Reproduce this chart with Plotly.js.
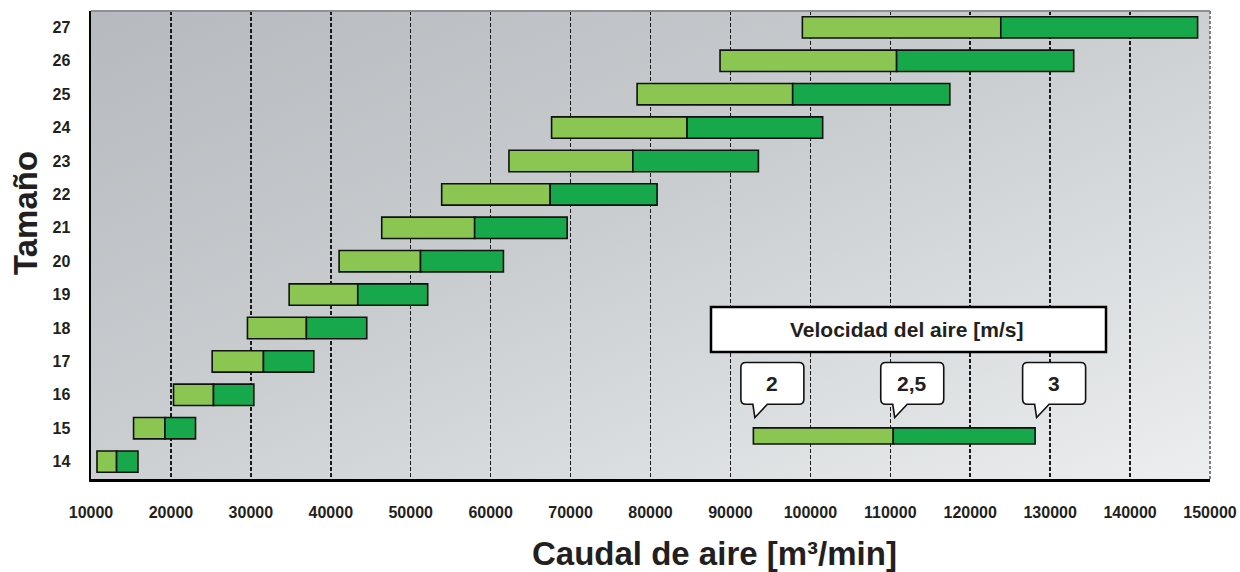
<!DOCTYPE html>
<html><head><meta charset="utf-8">
<script src="https://cdn.plot.ly/plotly-3.0.1.min.js"></script>
<style>html,body{margin:0;padding:0;background:#fff}#chart{width:1240px;height:572px}</style>
</head><body><div id="chart"></div>
<script>
// ---- data ----
const sizes     = [14, 15, 16, 17, 18, 19, 20, 21, 22, 23, 24, 25, 26, 27];
const flowAt2   = [10750, 15325, 20325, 25160, 29575, 34790, 41040, 46375, 53875, 62290, 67625, 78325, 88700, 99000];
const flowAt25  = [13200, 19250, 25325, 31575, 36950, 43375, 51225, 58000, 67450, 77790, 84575, 97790, 110790, 123825];
const flowAt3   = [15875, 23075, 30375, 37875, 44500, 52125, 61600, 69575, 80825, 93500, 101540, 117450, 132950, 148450];
const legendSpeeds = ['2', '2,5', '3'];
const legendFlows  = [92870, 110370, 128120];
const legendRow    = 14.77;
const xTickVals   = [10000, 20000, 30000, 40000, 50000, 60000, 70000, 80000, 90000, 100000, 110000, 120000, 130000, 140000, 150000];
const xTickLabels = ['10000','20000','30000','40000','50000','60000','70000','80000','90000','100000','110000','120000','130000','140000','150000'];
const xTitle = 'Caudal de aire [m³/min]';
const yTitle = 'Tamaño';
const legendTitle = 'Velocidad del aire [m/s]';

// ---- geometry ----
const W = 1240, H = 572;
const PL = 91, PR = 1210, PT = 11, PB = 479;
const XMIN = 10000, XMAX = 150000;
const fx = px => (px - PL) / (PR - PL);
const fy = py => (PB - py) / (PB - PT);
const vx = v => PL + (v - XMIN) / (XMAX - XMIN) * (PR - PL);

const LIGHT = '#8bc653', DARK = '#17a84b';
const FONT = 'Liberation Sans, Arial, sans-serif';
const TXT = '#231f20';

const diff = (a, b) => a.map((v, i) => v - b[i]);
const barLine = {color: '#111', width: 1.6};

const traces = [
  {type: 'bar', orientation: 'h', y: sizes, base: flowAt2, x: diff(flowAt25, flowAt2),
   width: 0.64, marker: {color: LIGHT, line: barLine}, hoverinfo: 'skip'},
  {type: 'bar', orientation: 'h', y: sizes, base: flowAt25, x: diff(flowAt3, flowAt25),
   width: 0.64, marker: {color: DARK, line: barLine}, hoverinfo: 'skip'},
  {type: 'bar', orientation: 'h', y: [legendRow], base: [legendFlows[0]], x: [legendFlows[1] - legendFlows[0]],
   width: 0.48, marker: {color: LIGHT, line: barLine}, hoverinfo: 'skip'},
  {type: 'bar', orientation: 'h', y: [legendRow], base: [legendFlows[1]], x: [legendFlows[2] - legendFlows[1]],
   width: 0.48, marker: {color: DARK, line: barLine}, hoverinfo: 'skip'}
];

// gradient background
const grad = '<svg xmlns="http://www.w3.org/2000/svg" width="200" height="100" viewBox="0 0 200 100" preserveAspectRatio="none">' +
  '<defs><linearGradient id="g" x1="0" y1="0" x2="1" y2="1">' +
  '<stop offset="0" stop-color="#b6babe"/><stop offset="0.45" stop-color="#c9cdd0"/><stop offset="1" stop-color="#eceeef"/></linearGradient></defs>' +
  '<rect width="200" height="100" fill="url(#g)"/></svg>';

const shapes = [];
const annotations = [];

// legend title box
shapes.push({type: 'rect', xref: 'paper', yref: 'paper', x0: fx(711), x1: fx(1106), y0: fy(352), y1: fy(307),
  line: {color: '#000', width: 2.5}, fillcolor: '#fff'});
annotations.push({xref: 'paper', yref: 'paper', x: fx(906), y: fy(329.5), text: legendTitle, showarrow: false,
  font: {family: FONT, size: 21, color: TXT, weight: 'bold'}, xanchor: 'center', yanchor: 'middle'});

// speech bubbles
function bubblePath(tip) {
  const l = tip - 14, r = tip + 49, t = 362.5, b = 404.3, rad = 5;
  const tl = tip - 2, tr = tip + 12.5, ty = 417.5;
  const P = (x, y) => fx(x).toFixed(5) + ',' + fy(y).toFixed(5);
  return 'M' + P(l + rad, t) + ' L' + P(r - rad, t) + ' Q' + P(r, t) + ' ' + P(r, t + rad) +
    ' L' + P(r, b - rad) + ' Q' + P(r, b) + ' ' + P(r - rad, b) +
    ' L' + P(tr, b) + ' L' + P(tip, ty) + ' L' + P(tl, b) +
    ' L' + P(l + rad, b) + ' Q' + P(l, b) + ' ' + P(l, b - rad) +
    ' L' + P(l, t + rad) + ' Q' + P(l, t) + ' ' + P(l + rad, t) + ' Z';
}
legendFlows.forEach((v, i) => {
  const tip = vx(v) + 1.5;
  shapes.push({type: 'path', xref: 'paper', yref: 'paper', path: bubblePath(tip),
    line: {color: '#111', width: 1.6}, fillcolor: '#fff'});
  annotations.push({xref: 'paper', yref: 'paper', x: fx(tip + 17.5), y: fy(383.5), text: legendSpeeds[i],
    showarrow: false, font: {family: FONT, size: 21, color: TXT, weight: 'bold'},
    xanchor: 'center', yanchor: 'middle'});
});

// frame lines
shapes.push({type: 'line', xref: 'paper', yref: 'paper', x0: 0, x1: 1, y0: 1, y1: 1, line: {color: '#8e9193', width: 2}});
shapes.push({type: 'line', xref: 'paper', yref: 'paper', x0: 1, x1: 1, y0: 0, y1: 1, line: {color: '#7d8083', width: 2, dash: '3px,2px'}});

// axis titles
annotations.push({xref: 'paper', yref: 'paper', x: fx(714), y: fy(553), text: xTitle, showarrow: false,
  font: {family: FONT, size: 33, color: TXT, weight: 'bold'}, xanchor: 'center', yanchor: 'middle'});
annotations.push({xref: 'paper', yref: 'paper', x: fx(25), y: fy(213), text: yTitle, showarrow: false, textangle: -90,
  font: {family: FONT, size: 33, color: TXT, weight: 'bold'}, xanchor: 'center', yanchor: 'middle'});

const layout = {
  width: W, height: H,
  margin: {l: PL, r: W - PR, t: PT, b: H - PB, pad: 0},
  paper_bgcolor: '#ffffff', plot_bgcolor: 'rgba(0,0,0,0)',
  barmode: 'overlay', showlegend: false,
  images: [{source: 'data:image/svg+xml;charset=utf-8,' + encodeURIComponent(grad), xref: 'paper', yref: 'paper',
    x: 0, y: 1, sizex: 1, sizey: 1, sizing: 'stretch', xanchor: 'left', yanchor: 'top', layer: 'below'}],
  xaxis: {range: [XMIN, XMAX], tickvals: xTickVals, ticktext: xTickLabels,
    showgrid: true, gridcolor: '#1a1a1a', gridwidth: 1.5, griddash: '4px,2px',
    showline: true, linecolor: '#000', linewidth: 3, zeroline: false,
    ticks: 'outside', ticklen: 17, tickcolor: 'rgba(0,0,0,0)',
    tickfont: {family: FONT, size: 16, color: TXT, weight: 'bold'}, fixedrange: true},
  yaxis: {range: [13.48, 27.49], tickvals: sizes, showgrid: false, zeroline: false,
    showline: true, linecolor: '#000', linewidth: 2.5,
    ticks: 'outside', ticklen: 15, tickcolor: 'rgba(0,0,0,0)',
    tickfont: {family: FONT, size: 16, color: TXT, weight: 'bold'}, fixedrange: true},
  shapes: shapes, annotations: annotations
};

Plotly.newPlot('chart', traces, layout, {staticPlot: true, displayModeBar: false});
</script>
</body></html>
